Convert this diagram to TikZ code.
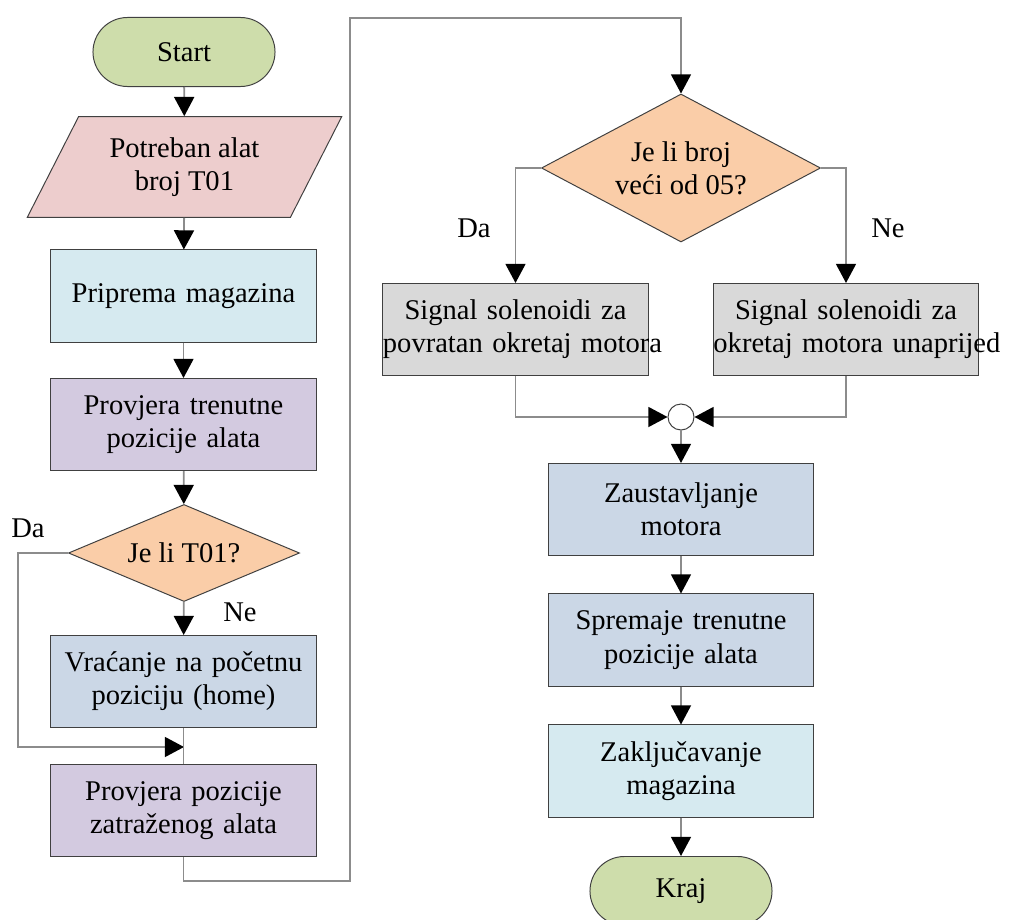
\documentclass[tikz,border=0pt]{standalone}
\usepackage{fontspec}
\setmainfont{Liberation Serif}
\usetikzlibrary{shapes.geometric,arrows.meta}
\definecolor{termgreen}{RGB}{206,221,171}
\definecolor{inpink}{RGB}{237,205,205}
\definecolor{boxcyan}{RGB}{214,234,240}
\definecolor{boxlilac}{RGB}{211,202,224}
\definecolor{boxblue}{RGB}{203,215,230}
\definecolor{boxgrey}{RGB}{217,217,217}
\definecolor{decorange}{RGB}{250,205,168}
\begin{document}
\begin{tikzpicture}[x=0.025cm, y=-0.025cm,
    font=\fontsize{20.3}{23.6}\selectfont,
    base/.style={draw=black!75, line width=0.7pt, align=center},
    box/.style={base, rectangle, text width=6.625cm, minimum height=2.3cm, inner sep=0pt},
    term/.style={base, rectangle, rounded corners=0.8625cm, minimum width=4.55cm, minimum height=1.725cm, fill=termgreen},
    dec/.style={base, diamond, inner sep=0pt, fill=decorange},
    flow/.style={draw=black!45, line width=1.3pt, -{Triangle[length=0.48cm, width=0.5cm, color=black]}},
    line/.style={draw=black!45, line width=1.3pt}]

    \useasboundingbox (0,0) rectangle (1009,920);

    \node[term] (start) at (184,52) {Start};
    \node[base, trapezium, trapezium left angle=63, trapezium right angle=117,
        inner xsep=0.775cm, inner ysep=0.52cm, fill=inpink] (tool) at (184.5,167) {Potreban alat\\broj T01};
    \node[box, fill=boxcyan] (prep) at (183.5,296) {Priprema magazina};
    \node[box, fill=boxlilac] (check1) at (183.5,424.5) {Provjera trenutne\\pozicije alata};
    \node[dec, aspect=2.38, minimum width=5.775cm, minimum height=2.425cm] (dec1) at (184,553) {Je li T01?};
    \node[box, fill=boxblue] (home) at (183.5,681.5) {Vraćanje na početnu\\poziciju (home)};
    \node[box, fill=boxlilac] (check2) at (183.5,810.5) {Provjera pozicije\\zatraženog alata};

    \node[dec, aspect=1.885, minimum width=6.975cm, minimum height=3.7cm] (dec2) at (681,168) {Je li broj\\veći od 05?};
    \node[box, fill=boxgrey] (solL) at (515.5,329.5) {\mbox{Signal solenoidi za}\\\mbox{povratan okretaj motora}};
    \node[box, fill=boxgrey] (solR) at (846,329.5) {\mbox{Signal solenoidi za}\\\mbox{okretaj motora unaprijed}};
    \node[draw=black!75, line width=0.7pt, circle, minimum size=0.65cm, inner sep=0pt, fill=white] (join) at (681,417) {};
    \node[box, fill=boxblue] (stop) at (681,509.5) {Zaustavljanje\\motora};
    \node[box, fill=boxblue] (save) at (681,640) {Spremaje trenutne\\pozicije alata};
    \node[box, fill=boxcyan] (lock) at (681,771) {Zaključavanje\\magazina};
    \node[term] (end) at (681,891) {Kraj};

    \node (da1) at (28,528) {Da};
    \node (ne1) at (240,612) {Ne};
    \node (da2) at (474,228) {Da};
    \node (ne2) at (888,228) {Ne};

    \coordinate (back) at (18,553);
    \coordinate (merge) at (184,747);
    \coordinate (low) at (350,881);
    \coordinate (high) at (350,18);

    \draw[flow] (start) -- (tool);
    \draw[flow] (tool) -- (prep);
    \draw[flow] (prep) -- (check1);
    \draw[flow] (check1) -- (dec1);
    \draw[flow] (dec1) -- (home);
    \draw[flow] (dec1.west) -- (back) |- (merge);
    \draw[line] (home) -- (check2);
    \draw[flow] (check2.south) |- (low) -- (high) -| (dec2.north);
    \draw[flow] (dec2.west) -| (solL.north);
    \draw[flow] (dec2.east) -| (solR.north);
    \draw[flow] (solL.south) |- (join.west);
    \draw[flow] (solR.south) |- (join.east);
    \draw[flow] (join) -- (stop);
    \draw[flow] (stop) -- (save);
    \draw[flow] (save) -- (lock);
    \draw[flow] (lock) -- (end);
\end{tikzpicture}
\end{document}
